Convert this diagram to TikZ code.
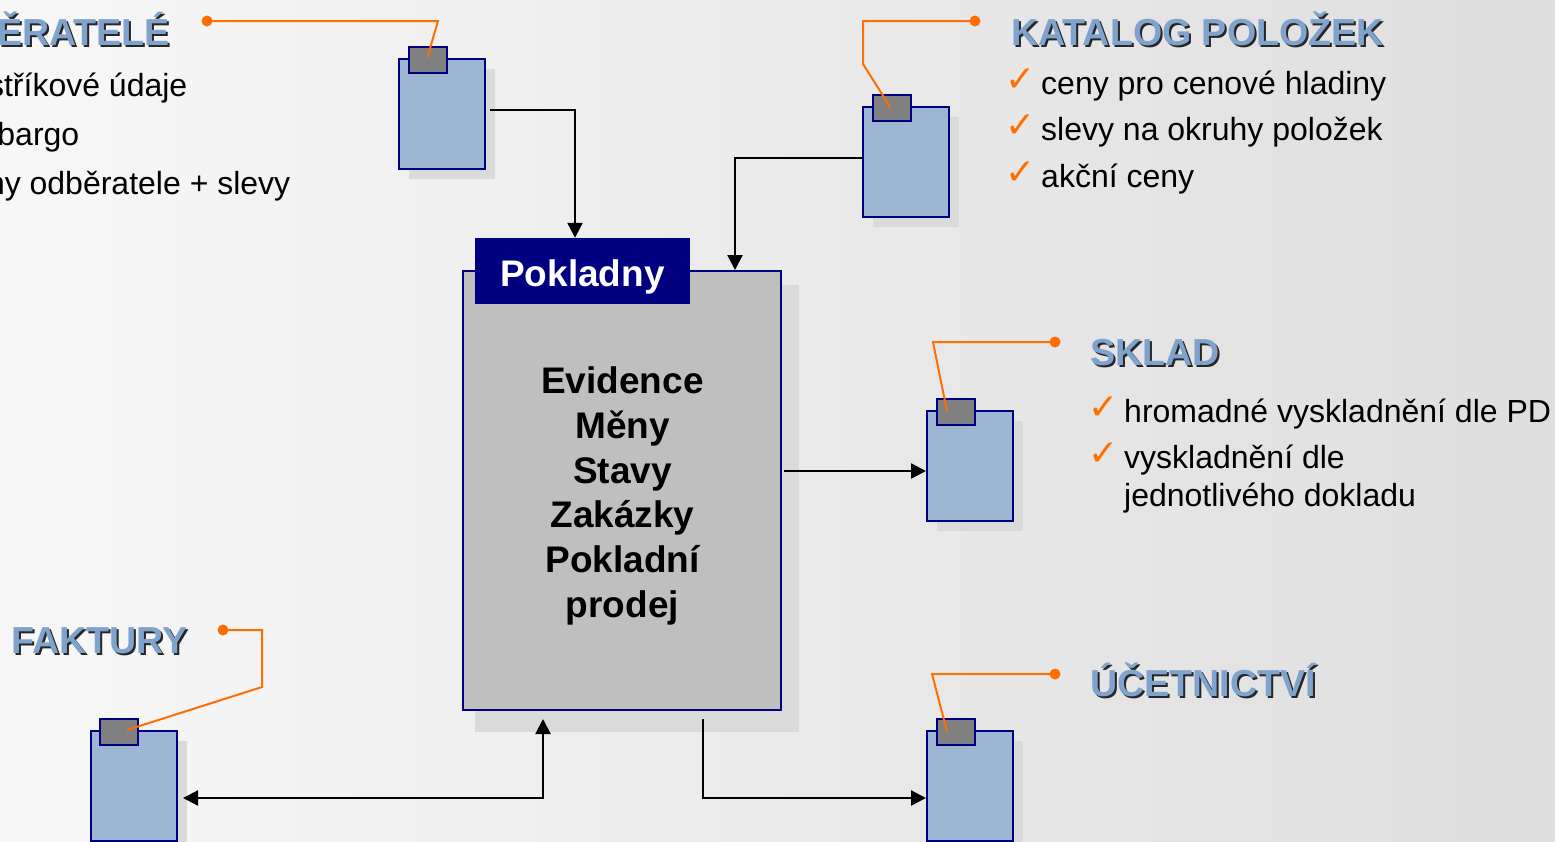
\documentclass[tikz,border=0pt]{standalone}
\usepackage{fontspec}
\setmainfont{Liberation Sans}
\newfontfamily\checkfont{DejaVu Sans}
\usetikzlibrary{arrows.meta,shadows}
\definecolor{listblue}{HTML}{9CB6D4}
\definecolor{headblue}{HTML}{7FA3CC}
\definecolor{wireorange}{HTML}{FF6E00}
\definecolor{framenavy}{HTML}{000080}
\definecolor{dropgrey}{HTML}{DADADA}
\tikzset{
  listbody/.style={draw=framenavy,line width=2pt,fill=listblue,minimum width=86pt,minimum height=110pt,inner sep=0pt,
    general shadow={fill=dropgrey,shadow xshift=9.5pt,shadow yshift=-9.5pt}},
  listtab/.style={draw=framenavy,line width=2pt,fill=black!50,minimum width=38pt,minimum height=26pt,inner sep=0pt},
  headshade/.style={anchor=base west,inner sep=0pt,text=black!85,font=\fontsize{37.6}{38}\selectfont\bfseries},
  headtext/.style={anchor=base west,inner sep=0pt,text=headblue,font=\fontsize{37.6}{38}\selectfont\bfseries},
  itemtext/.style={anchor=base west,inner sep=0pt,font=\fontsize{32}{32}\selectfont},
  itemcut/.style={anchor=base east,inner sep=0pt,font=\fontsize{32}{32}\selectfont},
  tick/.style={anchor=base,inner sep=0pt,text=wireorange,font=\fontsize{36}{36}\selectfont\checkfont},
  flow/.style={line width=2.2pt,-{Triangle[length=15pt,width=15pt]}},
  wire/.style={wireorange,line width=2pt,line join=miter},
  wiredot/.style={circle,fill=wireorange,minimum size=11pt,inner sep=0pt}
}
\begin{document}
\begin{tikzpicture}[x=1pt,y=-1pt]
  \useasboundingbox (0,0) rectangle (1555,841);
  \shade[left color=black!3,right color=black!13] (0,0) rectangle (1555,841);

  \node[minimum width=318pt,minimum height=439pt,inner sep=0pt,draw=framenavy,line width=2pt,fill=black!25,
    general shadow={fill=dropgrey,shadow xshift=15pt,shadow yshift=-17.5pt,shadow scale=1.018}] (kasa) at (622,490.5) {};
  \node[fill=framenavy,text=white,minimum width=215pt,minimum height=66pt,inner sep=0pt,text height=30pt,text depth=0pt,
    font=\fontsize{37}{37}\selectfont\bfseries] (kasatitle) at (582.5,271) {Pokladny};
  \node[align=center,inner sep=0pt,font=\fontsize{37}{44.7}\selectfont\bfseries] (kasatext) at (622.5,496)
    {Evidence\\M\v{e}ny\\Stavy\\Zak\'azky\\Pokladn\'i\\prodej};

  \node[listbody] (odber) at (442,114) {};
  \node[listbody] (katalog) at (906,162) {};
  \node[listbody] (sklad) at (970,466) {};
  \node[listbody] (ucet) at (970,786) {};
  \node[listbody] (faktury) at (134,786) {};

  \node[listtab] (odbertab) at (427.5,59.5) {};
  \node[listtab] (katalogtab) at (891.5,107.5) {};
  \node[listtab] (skladtab) at (956,411.5) {};
  \node[listtab] (ucettab) at (956,731.5) {};
  \node[listtab] (fakturytab) at (119,731.5) {};

  \coordinate (skladin) at ([yshift=-5pt]sklad.west);

  \draw[flow,shorten <=4pt] ([yshift=4pt]odber.east) -| ([xshift=-7.5pt]kasatitle.north);
  \draw[flow] ([yshift=4pt]katalog.west) -| ([xshift=113pt]kasa.north);
  \draw[flow,shorten <=2pt] (kasa.east |- skladin) -- (skladin);
  \draw[line width=2.2pt,{Triangle[length=15pt,width=15pt]}-{Triangle[length=15pt,width=15pt]},shorten <=5pt,shorten >=8pt]
    ([yshift=-12pt]faktury.east) -| ([xshift=-79pt]kasa.south);
  \draw[flow,shorten <=8pt] ([xshift=81pt]kasa.south) |- ([yshift=-12pt]ucet.west);

  \node[wiredot] (odberdot) at (207,21) {};
  \node[wiredot] (katalogdot) at (975,21) {};
  \node[wiredot] (skladdot) at (1055,342) {};
  \node[wiredot] (ucetdot) at (1055,674) {};
  \node[wiredot] (fakturydot) at (223,630) {};

  \draw[wire] (odberdot.center) -- (438,21) -- ([yshift=2.5pt]odbertab.center);
  \draw[wire] (katalogdot.center) -- (863,21) -- (863,64) -- ([xshift=-1pt]katalogtab.center);
  \draw[wire] (skladdot.center) -- (933,342) -- ([xshift=-9pt]skladtab.center);
  \draw[wire] (ucetdot.center) -- (932,674) -- ([xshift=-9pt]ucettab.center);
  \draw[wire] (fakturydot.center) -- (262,630) -- (262,687) -- ([xshift=8pt,yshift=1.5pt]fakturytab.center);

  \node[headshade] (odberhs) at (-1,47) {\v{E}RATEL\'E};
  \node[headtext] (odberh) at (-3,45) {\v{E}RATEL\'E};
  \node[headshade] (kataloghs) at (1013,47) {KATALOG POLO\v{Z}EK};
  \node[headtext] (katalogh) at (1011,45) {KATALOG POLO\v{Z}EK};
  \node[headshade] (skladhs) at (1092,367) {SKLAD};
  \node[headtext] (skladh) at (1090,365) {SKLAD};
  \node[headshade] (uceths) at (1092,698) {\'U\v{C}ETNICTV\'I};
  \node[headtext] (ucethd) at (1090,696) {\'U\v{C}ETNICTV\'I};
  \node[headshade] (fakturyhs) at (13,655) {FAKTURY};
  \node[headtext] (fakturyh) at (11,653) {FAKTURY};

  \node[itemcut] (odbera) at (187.5,96) {st\v{r}\'ikov\'e \'udaje};
  \node[itemcut] (odberb) at (79.5,145) {bargo};
  \node[itemcut] (odberc) at (290.5,194) {ny odb\v{e}ratele + slevy};

  \node[tick] (katalogta) at (1021,91) {✓};
  \node[tick] (katalogtb) at (1021,137) {✓};
  \node[tick] (katalogtc) at (1021,184) {✓};
  \node[itemtext] (kataloga) at (1041,94) {ceny pro cenov\'e hladiny};
  \node[itemtext] (katalogb) at (1041,140) {slevy na okruhy polo\v{z}ek};
  \node[itemtext] (katalogc) at (1041,187) {ak\v{c}n\'i ceny};

  \node[tick] (skladta) at (1103.5,419) {✓};
  \node[tick] (skladtb) at (1103.5,465) {✓};
  \node[itemtext] (sklada) at (1124,422) {hromadn\'e vyskladn\v{e}n\'i dle PD};
  \node[itemtext] (skladb) at (1124,468) {vyskladn\v{e}n\'i dle};
  \node[itemtext] (skladc) at (1124,506) {jednotliv\'eho dokladu};
\end{tikzpicture}
\end{document}
